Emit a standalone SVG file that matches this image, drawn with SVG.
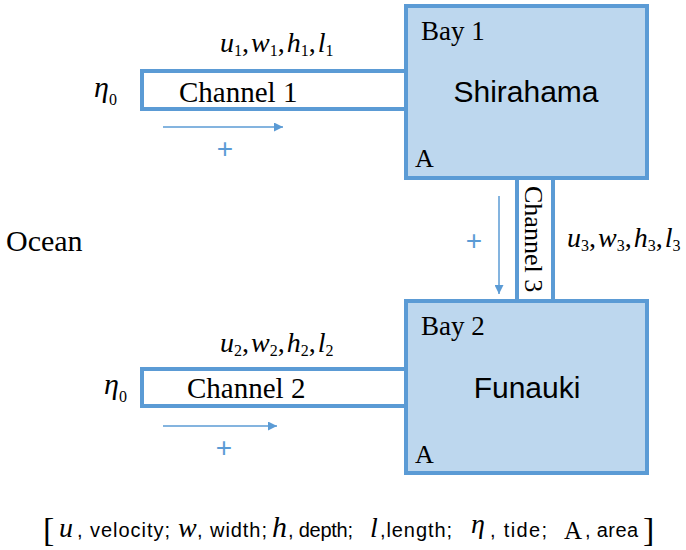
<svg xmlns="http://www.w3.org/2000/svg" width="686" height="550" viewBox="0 0 686 550">
<defs>
<marker id="ah" viewBox="0 0 10 10" refX="10" refY="5" markerWidth="12" markerHeight="9" markerUnits="userSpaceOnUse" orient="auto">
<path d="M0,0 L10,5 L0,10 z" fill="#5B9BD5"/>
</marker>
</defs>
<style>
.ch{fill:#ffffff;stroke:#5B9BD5;stroke-width:4}
.bay{fill:#BDD7EE;stroke:#5B9BD5;stroke-width:4}
.serif{font-family:"Liberation Serif","Times New Roman",serif;fill:#000}
.sans{font-family:"Liberation Sans",Arial,sans-serif;fill:#000}
.lg{font-family:"Liberation Sans",Arial,sans-serif;fill:#000;font-size:20px}
.it{font-family:"Liberation Serif","Times New Roman",serif;font-style:italic;fill:#000}
.sub{font-family:"Liberation Serif","Times New Roman",serif;font-style:normal;font-size:16px}
.cm{font-style:normal}
.plus{font-family:"Liberation Sans",Arial,sans-serif;font-size:28px;fill:#5B9BD5;text-anchor:middle}
.arr{stroke:#5B9BD5;stroke-width:1.5;fill:none;marker-end:url(#ah)}
</style>

<g id="channel1">
<rect class="ch" x="142" y="71" width="264" height="38"/>
<text class="serif" x="179" y="102" font-size="29">Channel 1</text>
</g>
<g id="channel2">
<rect class="ch" x="142" y="369" width="264" height="37"/>
<text class="serif" x="187" y="398" font-size="29">Channel 2</text>
</g>
<g id="channel3">
<rect class="ch" x="517" y="178" width="36" height="123"/>
<text class="serif" font-size="26" transform="translate(525,186) rotate(90)">Channel 3</text>
</g>

<g id="bay1">
<rect class="bay" x="406" y="6" width="241" height="172"/>
<text class="serif" x="421" y="40" font-size="27">Bay 1</text>
<text class="sans" x="526" y="102" font-size="30" text-anchor="middle">Shirahama</text>
<text class="serif" x="415" y="167" font-size="26">A</text>
</g>
<g id="bay2">
<rect class="bay" x="406" y="301" width="241" height="172"/>
<text class="serif" x="421" y="335" font-size="27">Bay 2</text>
<text class="sans" x="527" y="398" font-size="30" text-anchor="middle">Funauki</text>
<text class="serif" x="415" y="463" font-size="26">A</text>
</g>

<g id="ocean">
<text class="serif" x="6" y="251" font-size="30">Ocean</text>
</g>

<g id="labels">
<text class="it" x="220" y="52" font-size="28">u<tspan class="sub" dy="4">1</tspan><tspan class="cm" dy="-4">,</tspan><tspan dx="2">w</tspan><tspan class="sub" dy="4">1</tspan><tspan class="cm" dy="-4">,</tspan><tspan dx="2">h</tspan><tspan class="sub" dy="4">1</tspan><tspan class="cm" dy="-4">,</tspan><tspan dx="2">l</tspan><tspan class="sub" dy="4">1</tspan></text>
<text class="it" x="220" y="352" font-size="28">u<tspan class="sub" dy="4">2</tspan><tspan class="cm" dy="-4">,</tspan><tspan dx="2">w</tspan><tspan class="sub" dy="4">2</tspan><tspan class="cm" dy="-4">,</tspan><tspan dx="2">h</tspan><tspan class="sub" dy="4">2</tspan><tspan class="cm" dy="-4">,</tspan><tspan dx="2">l</tspan><tspan class="sub" dy="4">2</tspan></text>
<text class="it" x="567" y="247" font-size="28">u<tspan class="sub" dy="4">3</tspan><tspan class="cm" dy="-4">,</tspan><tspan dx="2">w</tspan><tspan class="sub" dy="4">3</tspan><tspan class="cm" dy="-4">,</tspan><tspan dx="2">h</tspan><tspan class="sub" dy="4">3</tspan><tspan class="cm" dy="-4">,</tspan><tspan dx="2">l</tspan><tspan class="sub" dy="4">3</tspan></text>
<text class="it" x="94" y="97" font-size="30">η<tspan class="sub" dy="8">0</tspan></text>
<text class="it" x="104" y="394" font-size="30">η<tspan class="sub" dy="8">0</tspan></text>
<text class="plus" x="225" y="158">+</text>
<text class="plus" x="224" y="457">+</text>
<text class="plus" x="474" y="250">+</text>
</g>

<g id="connectors">
<line class="arr" x1="163" y1="127" x2="283" y2="127"/>
<line class="arr" x1="163" y1="426" x2="277" y2="426"/>
<line class="arr" x1="499" y1="196" x2="499" y2="294"/>
</g>

<g id="legend">
<text class="serif" x="43" y="541" font-size="34">[</text>
<text class="it" x="59" y="537" font-size="28">u</text>
<text class="lg" x="77" y="537" textLength="93">, velocity;</text>
<text class="it" x="178" y="537" font-size="28">w</text>
<text class="lg" x="197" y="537" textLength="70">, width;</text>
<text class="it" x="272" y="537" font-size="30">h</text>
<text class="lg" x="288" y="537" textLength="65">, depth;</text>
<text class="it" x="370" y="537" font-size="28">l</text>
<text class="lg" x="380" y="537" textLength="72">,length;</text>
<text class="it" x="471" y="533" font-size="28">η</text>
<text class="lg" x="490" y="537" textLength="57">, tide;</text>
<text class="serif" x="564" y="539" font-size="25">A</text>
<text class="lg" x="585" y="537" textLength="53">, area</text>
<text class="serif" x="643" y="541" font-size="34">]</text>
</g>
</svg>
